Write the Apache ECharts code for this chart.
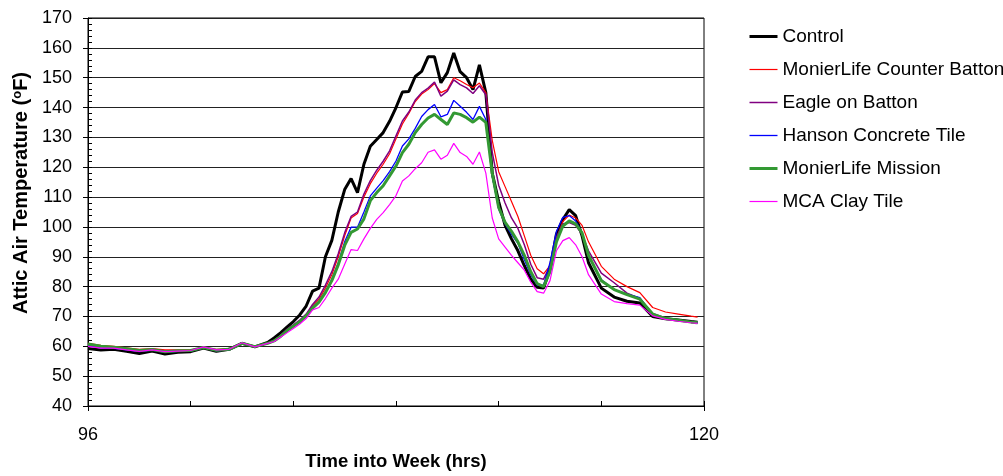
<!DOCTYPE html>
<html>
<head>
<meta charset="utf-8">
<script src="https://cdn.jsdelivr.net/npm/echarts@6/dist/echarts.min.js"></script>
<style>
  html, body { margin: 0; padding: 0; background: #fff; }
  #chart { width: 1003px; height: 476px; }
</style>
</head>
<body>
<div id="chart"></div>
<script>
// Time into week (hrs)
const hours = [
  96, 96.5, 97, 97.5, 98, 98.5, 99, 99.5, 100, 100.5, 101, 101.5, 102, 102.5, 103,
  103.25, 103.5, 103.75, 104, 104.25, 104.5, 104.75, 105, 105.25, 105.5, 105.75, 106,
  106.25, 106.5, 106.75, 107, 107.25, 107.5, 107.75, 108, 108.25, 108.5, 108.75, 109,
  109.25, 109.5, 109.75, 110, 110.25, 110.5, 110.75, 111, 111.25, 111.5, 111.75, 112,
  112.25, 112.5, 112.75, 113, 113.25, 113.5, 113.75, 114, 114.25, 114.5, 114.75, 115,
  115.25, 115.5, 116, 116.5, 117, 117.5, 118, 118.5, 119, 119.5, 119.75
];

// Attic air temperature (F)
const control = [
  59.3, 58.8, 59, 58.3, 57.6, 58.4, 57.4, 58, 58.2, 59.4, 58.3, 59, 61, 59.8, 61.3,
  62.8, 64.5, 66.4, 68.3, 70.5, 73.5, 78.5, 79.5, 90, 95.5, 105, 112.5,
  116.2, 111.5, 121, 127, 129.3, 131.6, 135.4, 140, 145.2, 145.4, 150.4, 152.1,
  157, 157, 148.3, 151.7, 158.3, 152, 150, 146, 154.3, 145, 118, 108.5,
  100.5, 96, 92, 87, 82.5, 79.8, 79.5, 86, 97.5, 102.5, 105.8, 103.8,
  97, 88, 79.5, 76.5, 75.1, 74.5, 70, 69.2, 68.8, 68.3, 68.1
];
const counterBatton = [
  61, 60.3, 60, 59.5, 59, 59.2, 58.8, 58.8, 58.8, 59.5, 59, 59.2, 61, 60, 61,
  62, 63.5, 65.5, 67, 68.5, 70.5, 73.5, 75.8, 79.5, 84, 90, 97,
  103, 104.5, 110, 114.5, 118, 121, 124.5, 129.5, 134.5, 138, 142, 144.5,
  146, 148, 145, 146, 150, 149, 147.7, 146.6, 148.2, 145, 129, 118.5,
  113.5, 108.5, 103.5, 97, 90.5, 86, 84.3, 87, 96, 101.8, 104, 103,
  100.5, 95, 86.8, 82.5, 80, 78, 73, 71.5, 70.8, 70.1, 69.8
];
const eagleBatton = [
  60.4, 60, 59.6, 59.2, 58.6, 58.9, 58.3, 58.5, 58.6, 59.5, 58.7, 59, 61, 59.9, 61,
  62, 63.6, 65.7, 67.2, 68.8, 70.8, 74, 76.5, 80.5, 85, 91, 98,
  103.5, 105, 111, 115.5, 119, 122, 125.5, 130.5, 135.5, 138.5, 142.5, 145,
  146.5, 148.5, 143.8, 145.5, 149.3, 147.7, 146.6, 144.7, 147.3, 144.3, 125, 114,
  108, 103, 99.5, 94, 87.5, 83, 82.5, 87, 96.5, 101, 101.5, 100.5,
  97.5, 92, 84.5, 81.3, 77.8, 76, 71, 69.5, 68.8, 68.2, 68
];
const hanson = [
  60.2, 59.5, 59.3, 58.8, 58.2, 58.7, 58, 58.3, 58.4, 59.5, 58.5, 58.8, 61, 59.8, 61,
  61.8, 63.4, 65.3, 66.8, 68.3, 70.3, 73, 75, 78.3, 82.5, 88, 95,
  99.9, 99.9, 105, 110.4, 113, 115.5, 118.5, 122.1, 127.1, 129.5, 133, 137,
  139.3, 141, 136.9, 137.7, 142.4, 140.4, 138.4, 136, 140.4, 136, 117, 106,
  101, 97.5, 94.5, 89, 84, 80.5, 80.5, 88, 98.5, 103.2, 103.8, 102,
  98, 90, 82.3, 79, 77.5, 76.3, 70.5, 69.2, 68.6, 68.1, 67.9
];
const mission = [
  60.8, 60, 59.7, 59.2, 58.6, 58.9, 58.2, 58.5, 58.6, 59.6, 58.7, 59, 61, 59.9, 61,
  61.8, 63.3, 65.2, 66.7, 68.2, 70.2, 72.8, 74.8, 78, 82, 87.3, 93.8,
  98.2, 99.3, 102.7, 108.8, 111.5, 113.8, 117.1, 120.4, 124.9, 127.7, 131.6, 134.3,
  136.5, 137.7, 136, 134.3, 138.2, 137.7, 136.6, 135.1, 136.8, 135, 118, 106.5,
  101.5, 98.5, 95, 90.5, 85, 81, 80, 85, 95, 100.3, 102, 101,
  98, 90.5, 82, 79, 77.3, 75.8, 70.8, 69.3, 68.7, 68.1, 67.9
];
const clayTile = [
  60, 59.4, 59.4, 58.8, 58.3, 58.8, 58.2, 58.4, 58.6, 59.8, 58.8, 59, 61.2, 59.8, 61,
  61.6, 63, 64.5, 66, 67.5, 69.3, 72.2, 73, 76, 79.5, 82.5, 87.5,
  92.4, 92.1, 96, 99.5, 102.5, 104.8, 107.5, 110.5, 115.4, 117.1, 119.5, 121.5,
  125, 125.8, 122.7, 124, 128, 124.9, 123.6, 121, 125.1, 118, 103, 96,
  93.2, 90.5, 88, 85.5, 81.5, 78.3, 77.8, 82, 92, 95.4, 96.4, 94,
  90, 84, 77.5, 75, 74.3, 73.8, 70.2, 69, 68.4, 67.9, 67.7
];

const seriesNames = [
  "Control",
  "MonierLife Counter Batton",
  "Eagle on Batton",
  "Hanson Concrete Tile",
  "MonierLife Mission",
  "MCA Clay Tile",
];
const seriesValues = [control, counterBatton, eagleBatton, hanson, mission, clayTile];
const seriesColors = ["#000000", "#ff0000", "#800080", "#0000ff", "#339933", "#ff00ff"];
const seriesWidths = [3, 1.2, 1.5, 1.3, 3, 1.2];

const FONT = "Liberation Sans, Arial, sans-serif";

const chart = echarts.init(document.getElementById("chart"));

const option = {
  animation: false,
  backgroundColor: "#ffffff",
  textStyle: { fontFamily: FONT },
  grid: {
    left: 88,
    right: 299,
    top: 18,
    bottom: 68,
    show: true,
    borderColor: "#000",
    borderWidth: 1,
  },
  legend: {
    orient: "vertical",
    left: 743,
    top: 22,
    itemWidth: 28,
    itemHeight: 14,
    itemGap: 14,
    data: seriesNames.map((name, k) => ({
      name: name,
      lineStyle: { color: seriesColors[k], width: seriesWidths[k] },
    })),
    itemStyle: { opacity: 0 },
    textStyle: { fontFamily: FONT, fontSize: 19, color: "#000" },
  },
  xAxis: [
    {
      type: "value",
      min: 96,
      max: 120,
      interval: 4,
      name: "Time into Week (hrs)",
      nameLocation: "middle",
      nameGap: 46,
      nameTextStyle: { fontFamily: FONT, fontSize: 18.5, fontWeight: "bold", color: "#000" },
      axisLine: { lineStyle: { color: "#000", width: 1 } },
      axisTick: { inside: true, length: 5, lineStyle: { color: "#000" } },
      axisLabel: {
        margin: 20,
        fontSize: 18,
        color: "#000",
        fontFamily: FONT,
        formatter: (v) => (v === 96 || v === 120 ? String(v) : ""),
      },
      splitLine: { show: false },
    },
    {
      type: "value",
      position: "bottom",
      min: 96,
      max: 120,
      interval: 24,
      axisLine: { show: false },
      axisTick: { inside: false, length: 5, lineStyle: { color: "#000" } },
      axisLabel: { show: false },
      splitLine: { show: false },
    },
  ],
  yAxis: [
    {
      type: "value",
      min: 40,
      max: 170,
      interval: 10,
      name: "Attic Air Temperature ({sup|o}F)",
      nameLocation: "middle",
      nameGap: 55,
      nameTextStyle: {
        fontFamily: FONT,
        fontSize: 20,
        fontWeight: "bold",
        color: "#000",
        padding: [0, 0, 0, 38],
        rich: {
          sup: { fontFamily: FONT, fontSize: 13, fontWeight: "bold", color: "#000", padding: [0, 0, 8, 0] },
        },
      },
      axisLine: { show: true, lineStyle: { color: "#000", width: 1 } },
      axisTick: { show: true, inside: false, length: 5, lineStyle: { color: "#000" } },
      axisLabel: { margin: 16, fontSize: 18, color: "#000", fontFamily: FONT },
      splitLine: { show: true, lineStyle: { color: "#222", width: 1 } },
    },
    {
      type: "value",
      position: "left",
      min: 40,
      max: 170,
      interval: 2,
      axisLine: { show: false },
      axisTick: { show: true, inside: true, length: 4, lineStyle: { color: "#000" } },
      axisLabel: { show: false },
      splitLine: { show: false },
    },
  ],
  series: seriesNames.map((name, k) => ({
    name: name,
    type: "line",
    xAxisIndex: 0,
    yAxisIndex: 0,
    symbol: "none",
    smooth: false,
    data: hours.map((h, i) => [h, seriesValues[k][i]]),
    itemStyle: { color: seriesColors[k] },
    lineStyle: { color: seriesColors[k], width: seriesWidths[k] },
  })),
};

chart.setOption(option);
</script>
</body>
</html>
